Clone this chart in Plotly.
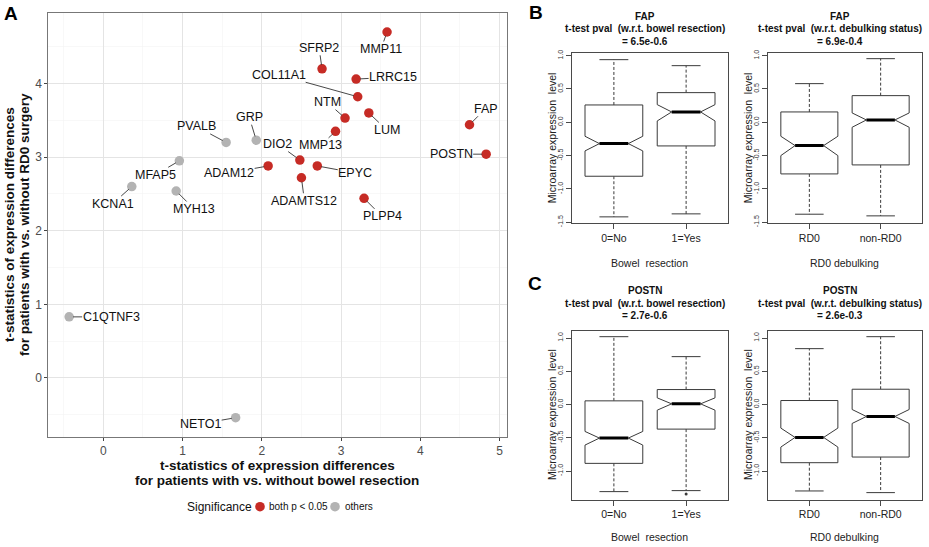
import plotly.graph_objects as go

# ---------------- Panel A data ----------------
genes = ["MMP11", "SFRP2", "LRRC15", "COL11A1", "NTM", "LUM", "MMP13", "FAP", "POSTN",
         "DIO2", "ADAM12", "EPYC", "ADAMTS12", "PLPP4",
         "GRP", "PVALB", "MFAP5", "KCNA1", "MYH13", "C1QTNF3", "NETO1"]
t_bowel = [3.58, 2.76, 3.19, 3.21, 3.05, 3.35, 2.93, 4.62, 4.83,
           2.48, 2.08, 2.70, 2.50, 3.29,
           1.93, 1.55, 0.96, 0.36, 0.92, -0.43, 1.67]
t_rd0 = [4.70, 4.20, 4.06, 3.82, 3.53, 3.60, 3.35, 3.44, 3.04,
         2.96, 2.88, 2.88, 2.72, 2.44,
         3.23, 3.20, 2.95, 2.60, 2.54, 0.83, -0.54]
significance = ["both p < 0.05"] * 14 + ["others"] * 7
sig_levels = ["both p < 0.05", "others"]
x_ticks_A = [0, 1, 2, 3, 4, 5]
y_ticks_A = [0, 1, 2, 3, 4]

# ---------------- Panels B / C data (boxplot statistics) ----------------
bowel_groups = ["0=No", "1=Yes"]
rd0_groups = ["RD0", "non-RD0"]

fap_bowel_upper = [0.94, 0.85]
fap_bowel_q3 = [0.26, 0.445]
fap_bowel_notch_hi = [-0.21, 0.265]
fap_bowel_median = [-0.32, 0.155]
fap_bowel_notch_lo = [-0.43, 0.02]
fap_bowel_q1 = [-0.81, -0.355]
fap_bowel_lower = [-1.42, -1.375]

fap_rd0_upper = [0.58, 0.955]
fap_rd0_q3 = [0.155, 0.40]
fap_rd0_notch_hi = [-0.21, 0.14]
fap_rd0_median = [-0.35, 0.035]
fap_rd0_notch_lo = [-0.50, -0.075]
fap_rd0_q1 = [-0.775, -0.64]
fap_rd0_lower = [-1.38, -1.405]

postn_bowel_upper = [1.02, 0.72]
postn_bowel_q3 = [0.055, 0.225]
postn_bowel_notch_hi = [-0.405, 0.10]
postn_bowel_median = [-0.505, 0.01]
postn_bowel_notch_lo = [-0.61, -0.085]
postn_bowel_q1 = [-0.885, -0.37]
postn_bowel_lower = [-1.31, -1.295]
postn_bowel_outliers = [[], [-1.345]]

postn_rd0_upper = [0.84, 1.02]
postn_rd0_q3 = [0.06, 0.23]
postn_rd0_notch_hi = [-0.355, -0.075]
postn_rd0_median = [-0.495, -0.18]
postn_rd0_notch_lo = [-0.64, -0.285]
postn_rd0_q1 = [-0.875, -0.79]
postn_rd0_lower = [-1.30, -1.325]

fap_ticks = [-1.5, -1.0, -0.5, 0.0, 0.5, 1.0]
postn_ticks = [-1.0, -0.5, 0.0, 0.5, 1.0]

# ---------------- Layout constants ----------------
W, H = 929, 547
FONT = "Liberation Sans, Arial, sans-serif"
RED = "#C62B25"
GREY = "#B3B3B3"
BOXLINE = "#3a3a3a"
FRAME = "#4a4a4a"


def px(x):
    return x / W


def py(y):
    return 1 - y / H


def paper_text(x, y, text, font, xanchor="center", angle=0):
    return dict(x=px(x), y=py(y), xref="paper", yref="paper", showarrow=False,
                xanchor=xanchor, yanchor="middle", textangle=angle, text=text, font=font)


# label offsets (pixels) of the repelled gene labels
label_offset = {
    "MMP11": (-6, 17), "SFRP2": (-3, -21), "LRRC15": (37, -2), "COL11A1": (-79, -22),
    "NTM": (-18, -16), "LUM": (18, 17), "MMP13": (-15, 14), "DIO2": (-22, -16),
    "FAP": (16, -16), "POSTN": (-35, 0), "ADAM12": (-39, 7), "EPYC": (38, 7),
    "ADAMTS12": (3, 23), "PLPP4": (18, 18), "GRP": (-7, -23), "PVALB": (-30, -16),
    "MFAP5": (-24, 14), "KCNA1": (-19, 17), "MYH13": (18, 18), "C1QTNF3": (42, 0),
    "NETO1": (-35, 6),
}

fig = go.Figure()

# ---------------- Panel A ----------------
level_colors = {"both p < 0.05": RED, "others": GREY}
for lvl in sig_levels:
    idx = [i for i, s in enumerate(significance) if s == lvl]
    fig.add_trace(go.Scatter(
        x=[t_bowel[i] for i in idx], y=[t_rd0[i] for i in idx],
        mode="markers", name=lvl, showlegend=False,
        marker=dict(color=level_colors[lvl], size=9.5, line=dict(width=0)),
        xaxis="x", yaxis="y", hoverinfo="skip"))

annotations = []
for g, xv, yv in zip(genes, t_bowel, t_rd0):
    dx, dy = label_offset[g]
    annotations.append(dict(
        x=xv, y=yv, xref="x", yref="y", text=g, showarrow=True,
        ax=dx, ay=dy, arrowhead=0, arrowwidth=0.9, arrowcolor="#333333",
        standoff=4, startstandoff=0, borderpad=0,
        font=dict(family=FONT, size=12.5, color="#111111")))

xr = max(t_bowel) - min(t_bowel)
yr = max(t_rd0) - min(t_rd0)
xrange_A = [min(t_bowel) - 0.05 * xr, max(t_bowel) + 0.05 * xr]
yrange_A = [min(t_rd0) - 0.05 * yr, max(t_rd0) + 0.05 * yr]

axisA = dict(showline=True, mirror=True, linecolor="#777777", linewidth=1,
             ticks="outside", ticklen=3, tickcolor="#444444", automargin=False,
             tickfont=dict(family=FONT, size=12, color="#4d4d4d"),
             showgrid=True, gridcolor="#e4e4e4", gridwidth=1, zeroline=False,
             minor=dict(dtick=0.5, tick0=0, showgrid=True, gridcolor="#f3f3f3", gridwidth=0.6))

fig.update_layout(
    xaxis=dict(axisA, domain=[px(48.3), px(507)], range=xrange_A,
               tickvals=x_ticks_A, ticktext=[str(v) for v in x_ticks_A], anchor="y"),
    yaxis=dict(axisA, domain=[py(437), py(12.7)], range=yrange_A,
               tickvals=y_ticks_A, ticktext=[str(v) for v in y_ticks_A], anchor="x"),
)

# axis titles for A
title_font = dict(family=FONT, size=13.5, color="#111111")
annotations += [
    paper_text(277, 465, "<b>t-statistics of expression differences</b>", title_font),
    paper_text(277, 480.5, "<b>for patients with vs. without bowel resection</b>", title_font),
    paper_text(10, 225, "<b>t-statistics of expression differences</b>", title_font, angle=-90),
    paper_text(25, 225, "<b>for patients with vs. without RD0 surgery</b>", title_font, angle=-90),
]

# manual legend
shapes = []
leg_y = 506.7
annotations.append(paper_text(185, leg_y, "Significance",
                              dict(family=FONT, size=12, color="#111111"), xanchor="left"))
for lvl, cx, tx in zip(sig_levels, [260, 335], [267, 343]):
    shapes.append(dict(type="circle", xref="paper", yref="paper", xsizemode="pixel",
                       ysizemode="pixel", xanchor=px(cx), yanchor=py(leg_y),
                       x0=-4.8, x1=4.8, y0=-4.8, y1=4.8,
                       fillcolor=level_colors[lvl], line=dict(width=0)))
    annotations.append(paper_text(tx, leg_y, lvl, dict(family=FONT, size=10, color="#111111"),
                                  xanchor="left"))

# panel letters
for letter, lx, ly in [("A", 11, 13), ("B", 536, 12.5), ("C", 535, 283)]:
    annotations.append(paper_text(lx, ly, "<b>" + letter + "</b>",
                                  dict(family=FONT, size=19, color="#000000")))


# ---------------- Panels B / C ----------------
def box_traces(xa, ya, upper, q3, nhi, med, nlo, q1, lower, outliers=None):
    w, nw, sw = 0.4, 0.2, 0.2
    ox, oy, mx, my, wx, wy, sx, sy = [], [], [], [], [], [], [], []
    for i in range(len(med)):
        c = i + 1
        ox += [c - w, c + w, c + w, c + nw, c + w, c + w, c - w, c - w, c - nw, c - w, c - w, None]
        oy += [q3[i], q3[i], nhi[i], med[i], nlo[i], q1[i], q1[i], nlo[i], med[i], nhi[i], q3[i], None]
        mx += [c - nw, c + nw, None]
        my += [med[i], med[i], None]
        wx += [c, c, None, c, c, None]
        wy += [q3[i], upper[i], None, q1[i], lower[i], None]
        sx += [c - sw, c + sw, None, c - sw, c + sw, None]
        sy += [upper[i], upper[i], None, lower[i], lower[i], None]
    tr = [
        go.Scatter(x=wx, y=wy, mode="lines", line=dict(color=BOXLINE, width=1, dash="3px,2px"),
                   xaxis=xa, yaxis=ya, showlegend=False, hoverinfo="skip"),
        go.Scatter(x=sx, y=sy, mode="lines", line=dict(color=BOXLINE, width=1),
                   xaxis=xa, yaxis=ya, showlegend=False, hoverinfo="skip"),
        go.Scatter(x=ox, y=oy, mode="lines", line=dict(color=BOXLINE, width=1),
                   fill="toself", fillcolor="white",
                   xaxis=xa, yaxis=ya, showlegend=False, hoverinfo="skip"),
        go.Scatter(x=mx, y=my, mode="lines", line=dict(color="#000000", width=3),
                   xaxis=xa, yaxis=ya, showlegend=False, hoverinfo="skip"),
    ]
    if outliers:
        ox2, oy2 = [], []
        for i, vals in enumerate(outliers):
            for v in vals:
                ox2.append(i + 1)
                oy2.append(v)
        tr.append(go.Scatter(x=ox2, y=oy2, mode="markers",
                             marker=dict(symbol="circle", size=3, color=BOXLINE),
                             xaxis=xa, yaxis=ya, showlegend=False, hoverinfo="skip"))
    return tr


panels = [
    ("x2", "y2", bowel_groups, fap_bowel_upper, fap_bowel_q3, fap_bowel_notch_hi, fap_bowel_median,
     fap_bowel_notch_lo, fap_bowel_q1, fap_bowel_lower, None, fap_ticks),
    ("x3", "y3", rd0_groups, fap_rd0_upper, fap_rd0_q3, fap_rd0_notch_hi, fap_rd0_median,
     fap_rd0_notch_lo, fap_rd0_q1, fap_rd0_lower, None, fap_ticks),
    ("x4", "y4", bowel_groups, postn_bowel_upper, postn_bowel_q3, postn_bowel_notch_hi,
     postn_bowel_median, postn_bowel_notch_lo, postn_bowel_q1, postn_bowel_lower,
     postn_bowel_outliers, postn_ticks),
    ("x5", "y5", rd0_groups, postn_rd0_upper, postn_rd0_q3, postn_rd0_notch_hi, postn_rd0_median,
     postn_rd0_notch_lo, postn_rd0_q1, postn_rd0_lower, None, postn_ticks),
]

# frame geometry (pixels): left, right, top, bottom ; y range
frames = [
    (572, 728, 53.4, 223.2, [-1.515, 1.034]),
    (768, 922, 53.4, 223.2, [-1.515, 1.034]),
    (572, 728, 330.7, 499.6, [-1.43, 1.11]),
    (768, 922, 330.7, 499.6, [-1.43, 1.11]),
]

box_layout = {}
for (xa, ya, groups, up, q3, nh, md, nl, q1, lo, outl, ticks), (l, r, t, b, yrg) in zip(panels, frames):
    for trc in box_traces(xa, ya, up, q3, nh, md, nl, q1, lo, outl):
        fig.add_trace(trc)
    xn = "xaxis" + xa[1:]
    yn = "yaxis" + ya[1:]
    box_layout[xn] = dict(domain=[px(l), px(r)], range=[0.42, 2.58], anchor=ya,
                          tickvals=[1, 2], ticktext=groups, ticks="outside", ticklen=5,
                          tickcolor=FRAME, showline=True, mirror=True, linecolor=FRAME,
                          linewidth=1, showgrid=False, zeroline=False, automargin=False,
                          tickfont=dict(family=FONT, size=10.5, color="#222222"))
    box_layout[yn] = dict(domain=[py(b), py(t)], range=yrg, anchor=xa,
                          tickvals=ticks, ticktext=["%.1f" % v for v in ticks],
                          tickangle=-90, ticks="outside", ticklen=5, tickcolor=FRAME,
                          showline=True, mirror=True, linecolor=FRAME, linewidth=1,
                          showgrid=False, zeroline=False, automargin=False,
                          tickfont=dict(family=FONT, size=7, color="#333333"))
fig.update_layout(**box_layout)

# titles / axis titles for B and C
small_bold = dict(family=FONT, size=10, color="#111111")
small = dict(family=FONT, size=10.5, color="#222222")
titles = [
    (645, [16, 29, 41], ["FAP", "t-test pval\u00a0 (w.r.t. bowel resection)", "= 6.5e-0.6"]),
    (840, [16, 29, 41], ["FAP", "t-test pval\u00a0 (w.r.t. debulking status)", "= 6.9e-0.4"]),
    (645, [291, 303.5, 315.5], ["POSTN", "t-test pval\u00a0 (w.r.t. bowel resection)", "= 2.7e-0.6"]),
    (840, [291, 303.5, 315.5], ["POSTN", "t-test pval\u00a0 (w.r.t. debulking status)", "= 2.6e-0.3"]),
]
for cx, ys, lines in titles:
    for yy, txt in zip(ys, lines):
        annotations.append(paper_text(cx, yy, "<b>" + txt + "</b>", small_bold))

xtitles = [(649, 262.5, "Bowel\u00a0 resection"), (844, 262.5, "RD0 debulking"),
           (649, 537, "Bowel\u00a0 resection"), (844, 537, "RD0 debulking")]
for cx, yy, txt in xtitles:
    annotations.append(paper_text(cx, yy, txt, small))
for cx, cy in [(552, 138.3), (748, 138.3), (552, 415), (748, 415)]:
    annotations.append(paper_text(cx, cy, "Microarray expression\u00a0 level", small, angle=-90))

fig.update_layout(
    width=W, height=H, margin=dict(l=0, r=0, t=0, b=0, autoexpand=False),
    paper_bgcolor="white", plot_bgcolor="white",
    font=dict(family=FONT),
    annotations=annotations, shapes=shapes, showlegend=False,
)

fig.write_html("out.html", config={"displayModeBar": False, "staticPlot": True},
               post_script="document.body.style.margin='0px';")
